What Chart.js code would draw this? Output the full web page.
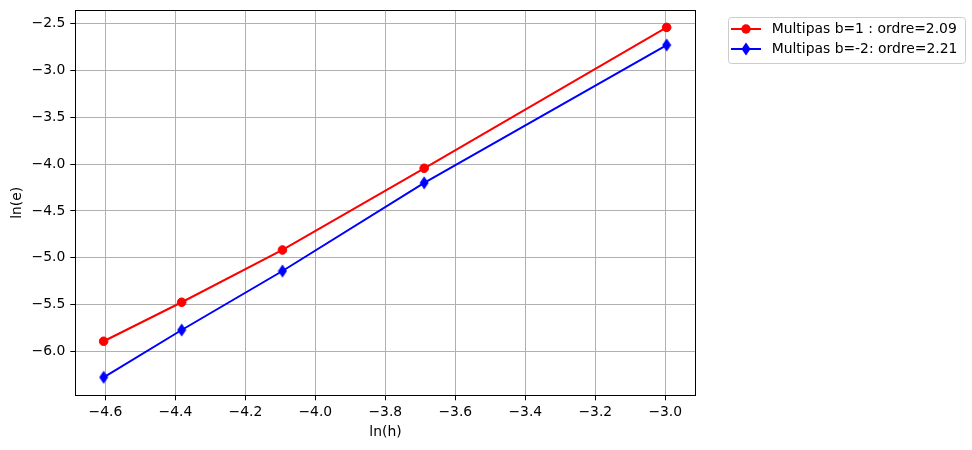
<!DOCTYPE html>
<html>
<head>
<meta charset="utf-8">
<script src="https://cdn.jsdelivr.net/npm/chart.js@4"></script>
<style>body{margin:0;background:#fff}</style>
</head>
<body>
<canvas id="chart" width="972" height="450"></canvas>
<script>
// valeurs
const lnH = [-4.605, -4.382, -4.094, -3.689, -2.996];
const errB1 = [-5.889, -5.473, -4.916, -4.045, -2.543];
const errBm2 = [-6.273, -5.769, -5.140, -4.200, -2.731];
const xTicks = [-4.6, -4.4, -4.2, -4.0, -3.8, -3.6, -3.4, -3.2, -3.0];
const yTicks = [-6.0, -5.5, -5.0, -4.5, -4.0, -3.5, -3.0, -2.5];
const seriesLabels = ['Multipas b=1 : ordre=2.09', 'Multipas b=-2: ordre=2.21'];
const seriesColors = ['#ff0000', '#0000ff'];

Chart.defaults.font.family = 'DejaVu Sans';
Chart.defaults.font.size = 13.9;
Chart.defaults.color = '#000';

// losange fin (marker 'd' de matplotlib)
function diamond(color, w, h) {
    const c = document.createElement('canvas');
    c.width = w; c.height = h;
    const g = c.getContext('2d');
    g.fillStyle = color;
    g.beginPath();
    g.moveTo(w / 2, 0.5);
    g.lineTo(w - 0.5, h / 2);
    g.lineTo(w / 2, h - 0.5);
    g.lineTo(0.5, h / 2);
    g.closePath();
    g.fill();
    return c;
}

// echantillon de legende : trait + marqueur
function sample(color, marker) {
    const c = document.createElement('canvas');
    c.width = 30; c.height = 14;
    const g = c.getContext('2d');
    g.strokeStyle = color;
    g.lineWidth = 2;
    g.beginPath(); g.moveTo(0, 7); g.lineTo(30, 7); g.stroke();
    g.fillStyle = color;
    if (marker === 'circle') {
        g.beginPath(); g.arc(15, 7, 4.7, 0, Math.PI * 2); g.fill();
    } else {
        g.drawImage(diamond(color, 10, 14), 10, 0);
    }
    return c;
}

const samples = [sample(seriesColors[0], 'circle'), sample(seriesColors[1], 'diamond')];

const fmt = v => Number(v).toFixed(1).replace('-', '\u2212');

// legende a la matplotlib, a droite du graphe avec un cadre gris
const sideLegend = {
    id: 'sideLegend',
    afterDraw(chart) {
        const ctx = chart.ctx;
        const area = chart.chartArea;
        const sx = area.right + 35.3;
        const tx = area.right + 76;
        const cy0 = area.top + 18.7;
        const step = 20.3;
        ctx.save();
        ctx.font = '13.9px "DejaVu Sans"';
        const tw = Math.max(...seriesLabels.map(t => ctx.measureText(t).width));
        const x0 = area.right + 32;
        const x1 = tx + tw + 7;
        const y0 = cy0 - 11.7;
        const y1 = cy0 + step * (seriesLabels.length - 1) + 14;
        ctx.strokeStyle = '#cccccc';
        ctx.lineWidth = 1;
        ctx.beginPath();
        ctx.roundRect(Math.round(x0) + 0.5, Math.round(y0) + 0.5, Math.round(x1 - x0), Math.round(y1 - y0), 3);
        ctx.stroke();
        ctx.fillStyle = '#000';
        ctx.textBaseline = 'middle';
        ctx.textAlign = 'left';
        seriesLabels.forEach((t, i) => {
            const cy = cy0 + i * step;
            ctx.drawImage(samples[i], sx, Math.round(cy - 7));
            ctx.fillText(t, tx, cy);
        });
        ctx.restore();
    }
};

const gridOpts = { color: '#b0b0b0', lineWidth: 1, tickColor: '#000', tickLength: 5, tickWidth: 1 };
const borderOpts = { color: '#000', width: 1 };

new Chart(document.getElementById('chart'), {
    type: 'scatter',
    data: {
        datasets: [
            {
                label: seriesLabels[0],
                data: lnH.map((x, i) => ({ x: x, y: errB1[i] })),
                showLine: true,
                borderColor: seriesColors[0],
                backgroundColor: seriesColors[0],
                borderWidth: 2,
                pointStyle: 'circle',
                pointRadius: 4.3,
                pointHoverRadius: 4.3,
                pointBorderWidth: 1
            },
            {
                label: seriesLabels[1],
                data: lnH.map((x, i) => ({ x: x, y: errBm2[i] })),
                showLine: true,
                borderColor: seriesColors[1],
                backgroundColor: seriesColors[1],
                borderWidth: 2,
                pointStyle: diamond(seriesColors[1], 10, 14),
                pointRadius: 6,
                pointHoverRadius: 6
            }
        ]
    },
    options: {
        responsive: false,
        animation: false,
        layout: { padding: 0 },
        scales: {
            x: {
                type: 'linear',
                position: 'bottom',
                min: -4.686,
                max: -2.913,
                afterBuildTicks: s => { s.ticks = xTicks.map(v => ({ value: v })); },
                afterFit: s => { s.height = 54.7; s.paddingLeft = 0; s.paddingRight = 0; },
                grid: gridOpts,
                border: borderOpts,
                ticks: { padding: 4, maxRotation: 0, callback: fmt },
                title: { display: true, text: 'ln(h)', padding: { top: 4, bottom: 9.4 } }
            },
            y: {
                type: 'linear',
                position: 'left',
                min: -6.465,
                max: -2.361,
                afterBuildTicks: s => { s.ticks = yTicks.map(v => ({ value: v })); },
                afterFit: s => { s.width = 75.3; s.paddingTop = 0; s.paddingBottom = 0; },
                grid: gridOpts,
                border: borderOpts,
                ticks: { padding: 5, callback: fmt },
                title: { display: true, text: 'ln(e)', padding: { top: 9, bottom: 0 } }
            },
            x2: {
                type: 'linear',
                position: 'top',
                min: -4.686,
                max: -2.913,
                afterFit: s => { s.height = 10.3; s.paddingLeft = 0; s.paddingRight = 0; },
                grid: { display: false },
                border: borderOpts,
                ticks: { display: false }
            },
            y2: {
                type: 'linear',
                position: 'right',
                min: -6.465,
                max: -2.361,
                afterFit: s => { s.width = 276.3; s.paddingTop = 0; s.paddingBottom = 0; },
                grid: { display: false },
                border: borderOpts,
                ticks: { display: false }
            }
        },
        plugins: {
            tooltip: { enabled: false },
            legend: { display: false }
        }
    },
    plugins: [sideLegend]
});
</script>
</body>
</html>
